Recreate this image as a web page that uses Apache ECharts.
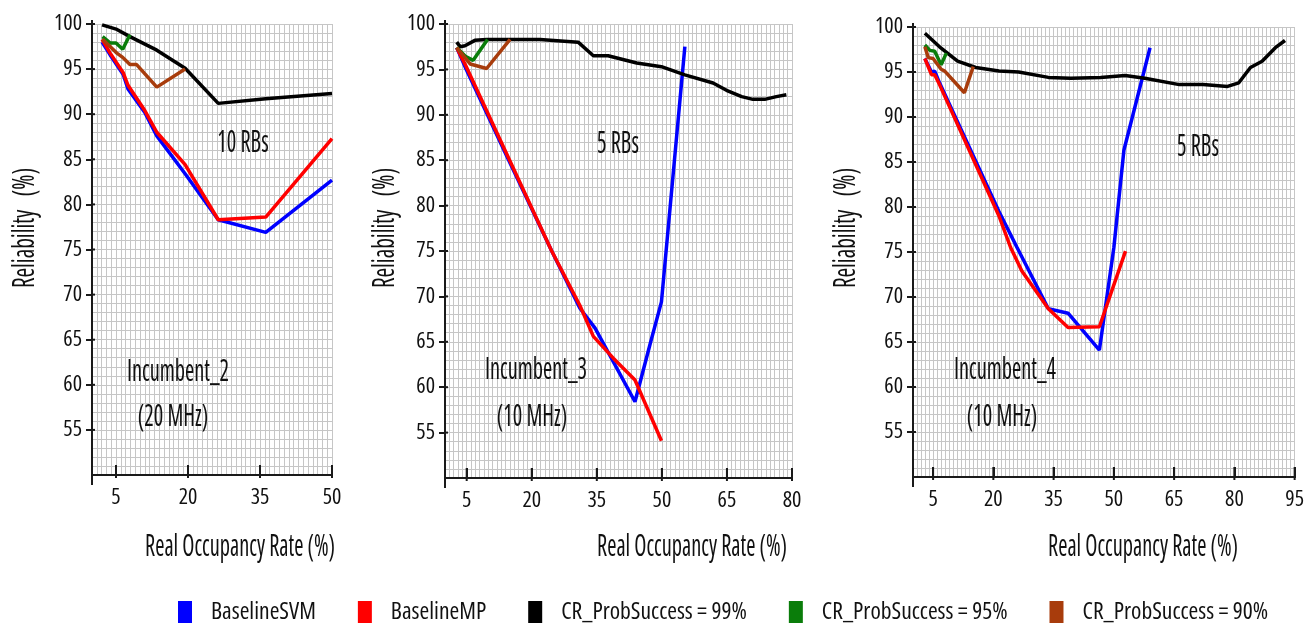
<!DOCTYPE html>
<html>
<head>
<meta charset="utf-8">
<script src="https://cdn.jsdelivr.net/npm/echarts@6/dist/echarts.min.js"></script>
<style>
  html, body { margin: 0; padding: 0; background: #fff; }
  #container { width: 1307px; height: 630px; }
</style>
</head>
<body>
<div id="container"></div>
<script>
// series names (legend order)
const names = ['BaselineSVM', 'BaselineMP', 'CR_ProbSuccess = 99%', 'CR_ProbSuccess = 95%', 'CR_ProbSuccess = 90%'];

// tick labels
const xTicks1 = [5, 20, 35, 50];
const xTicks2 = [5, 20, 35, 50, 65, 80];
const xTicks3 = [5, 20, 35, 50, 65, 80, 95];
const yTicks = [55, 60, 65, 70, 75, 80, 85, 90, 95, 100];

// Incumbent_2 (20 MHz), 10 RBs   [occupancy %, reliability %]
const svm1 = [[2.1, 98.0], [3.75, 96.6], [6.5, 94.4], [7.5, 92.8], [11, 90.2], [13.5, 87.6], [19.4, 83.4], [26.3, 78.3], [36.2, 76.9], [50, 82.7]];
const mp1 = [[2.1, 98.3], [3.75, 96.8], [6.5, 94.6], [7.5, 93.2], [11, 90.4], [13.5, 88.0], [19.4, 84.4], [26.3, 78.3], [36.2, 78.6], [50, 87.3]];
const cr99_1 = [[2.1, 99.9], [5.2, 99.4], [7.9, 98.6], [13.5, 97.1], [19.4, 95.1], [26.3, 91.2], [36.2, 91.7], [50, 92.3]];
const cr95_1 = [[2.2, 98.6], [3.75, 97.9], [5, 97.9], [6.4, 97.2], [7.9, 98.8]];
const cr90_1 = [[2.2, 98.3], [5.1, 96.8], [6.4, 96.3], [7.9, 95.5], [9.3, 95.5], [13.5, 93.0], [19.4, 95.0]];

// Incumbent_3 (10 MHz), 5 RBs
const svm2 = [[2.7, 97.4], [4.8, 95.1], [14.5, 85.2], [24.6, 75.0], [31.1, 68.7], [34.6, 66.5], [43.8, 58.4], [47.2, 64.6], [49.9, 69.4], [55.3, 97.5]];
const mp2 = [[2.7, 97.4], [4.8, 95.4], [14.5, 85.4], [24.6, 75.0], [31.1, 69.0], [34.2, 65.6], [38.8, 63.2], [43.8, 60.8], [49.9, 54.1]];
const cr99_2 = [[2.7, 98.0], [3.5, 97.5], [4.6, 97.6], [6.9, 98.2], [9.6, 98.3], [21.9, 98.3], [30.7, 98.0], [34.2, 96.5], [37.6, 96.5], [44.2, 95.7], [49.9, 95.3], [55.3, 94.4], [61.8, 93.5], [64.9, 92.7], [68.4, 92.0], [71, 91.7], [73.7, 91.7], [76.4, 92.0], [78.7, 92.2]];
const cr95_2 = [[2.7, 97.4], [4.8, 96.4], [6.5, 96.0], [9.8, 98.3]];
const cr90_2 = [[2.7, 97.4], [5.8, 95.6], [9.6, 95.1], [15, 98.3]];

// Incumbent_4 (10 MHz), 5 RBs
const svm3 = [[2.95, 96.5], [4.6, 95.0], [5.4, 95.1], [6.6, 93.8], [21.4, 79.5], [25.9, 75.5], [33.7, 68.7], [38.6, 68.2], [46.4, 64.1], [50, 75.5], [52.5, 86.3], [59, 97.7]];
const mp3 = [[2.95, 96.5], [4.6, 94.7], [5.4, 94.7], [6.6, 93.6], [21.4, 79.0], [24.3, 75.5], [27.1, 72.9], [33.7, 68.7], [38.6, 66.6], [46.4, 66.7], [52.9, 75.1]];
const cr99_3 = [[2.95, 99.3], [6.6, 97.8], [11.1, 96.2], [15.6, 95.5], [21.4, 95.1], [26.3, 95.0], [33.7, 94.4], [39.3, 94.3], [46.7, 94.4], [52.8, 94.6], [57.7, 94.3], [66.3, 93.6], [72.2, 93.6], [78.3, 93.4], [81.1, 93.8], [84, 95.5], [86.9, 96.2], [90.2, 97.7], [92.6, 98.5]];
const cr95_3 = [[2.95, 98.0], [4.2, 97.4], [5.4, 97.3], [7.0, 95.8], [8.3, 97.1]];
const cr90_3 = [[2.95, 97.8], [3.8, 96.6], [5.0, 96.5], [7.0, 95.3], [7.9, 95.1], [12.8, 92.7], [15, 95.6]];

const panels = [
    { xMax: 50, ticks: xTicks1, data: [svm1, mp1, cr99_1, cr95_1, cr90_1] },
    { xMax: 80, ticks: xTicks2, data: [svm2, mp2, cr99_2, cr95_2, cr90_2] },
    { xMax: 95, ticks: xTicks3, data: [svm3, mp3, cr99_3, cr95_3, cr90_3] }
];

const colors = ['#0000ff', '#ff0000', '#000000', '#0a7d0a', '#a83c0c'];
const gridBoxes = [
    { left: 92, top: 24, width: 240, height: 451 },
    { left: 445, top: 24, width: 347, height: 454 },
    { left: 913, top: 27, width: 386, height: 450 }
];
const yMin = 50, yMax = 100;
const axisColor = '#1a1a1a';
const gridColor = '#c6c6c6';
const font = "normal condensed 31px 'Open Sans'";
const labelFont = { fontFamily: "'Open Sans'", fontStyle: 'normal', fontWeight: 'condensed', fontSize: 22, color: '#111' };

// annotations: [text, x, y, rotated]
const notes = [
    ['Reliability   (%)', 25, 228, true], ['Reliability   (%)', 385, 228, true], ['Reliability   (%)', 846, 228, true],
    ['Real Occupancy Rate (%)', 240, 547], ['Real Occupancy Rate (%)', 692, 547], ['Real Occupancy Rate (%)', 1143, 547],
    ['10 RBs', 243, 143], ['5 RBs', 618, 144], ['5 RBs', 1198, 147],
    ['Incumbent_2', 178, 372], ['(20 MHz)', 173, 417],
    ['Incumbent_3', 536, 370], ['(10 MHz)', 532, 417],
    ['Incumbent_4', 1005, 370], ['(10 MHz)', 1002, 417]
];

// axis frame (lines + crossing ticks) drawn as short line series on the same scales
const frameSeries = (p, box, i) => {
    const ux = p.xMax / box.width;            // data units per px
    const uy = (yMax - yMin) / box.height;
    const segs = [];
    segs.push([[0, yMax + 4 * uy], [0, yMin - 10 * uy]]);
    segs.push([[-4 * ux, yMin], [p.xMax + 5 * ux, yMin]]);
    p.ticks.forEach(t => segs.push([[t, yMin - 3 * uy], [t, yMin + 10 * uy]]));
    yTicks.forEach(v => segs.push([[-6 * ux, v], [3 * ux, v]]));
    return segs.map(seg => ({
        type: 'line', xAxisIndex: i * 2, yAxisIndex: i, data: seg,
        showSymbol: false, symbol: 'none', clip: false, silent: true, z: 1,
        lineStyle: { color: axisColor, width: 2 }, itemStyle: { color: axisColor },
        emphasis: { disabled: true }
    }));
};

const xAxes = [];
const yAxes = [];
const series = [];
panels.forEach((p, i) => {
    // labelled axis
    xAxes.push({
        type: 'value', gridIndex: i, position: 'bottom', min: 0, max: p.xMax,
        axisLine: { show: true, onZero: false, lineStyle: { color: axisColor, width: 2 } },
        axisTick: { show: true, inside: true, length: 10, customValues: p.ticks, lineStyle: { color: axisColor, width: 2 } },
        axisLabel: Object.assign({ customValues: p.ticks, margin: 12 }, labelFont),
        splitLine: { show: false }
    });
    // graph paper (1-unit lines)
    xAxes.push({
        type: 'value', gridIndex: i, position: 'bottom', min: 0, max: p.xMax, interval: 1,
        axisLine: { show: false }, axisTick: { show: false }, axisLabel: { show: false },
        splitLine: { show: true, lineStyle: { color: gridColor, width: 1 } }
    });
    yAxes.push({
        type: 'value', gridIndex: i, min: yMin, max: yMax, interval: 5,
        axisLine: { show: true, onZero: false, lineStyle: { color: axisColor, width: 2 } },
        axisTick: { show: true, length: 6, lineStyle: { color: axisColor, width: 2 } },
        axisLabel: Object.assign({ showMinLabel: false, margin: 10 }, labelFont),
        splitLine: { show: true, lineStyle: { color: gridColor, width: 1 } },
        minorTick: { show: false, splitNumber: 5 },
        minorSplitLine: { show: true, lineStyle: { color: gridColor, width: 1 } }
    });
    frameSeries(p, gridBoxes[i], i).forEach(s => series.push(s));
    p.data.forEach((d, k) => {
        series.push({
            name: names[k], type: 'line', xAxisIndex: i * 2, yAxisIndex: i,
            data: d, showSymbol: false, symbol: 'none', z: 2,
            lineStyle: { color: colors[k], width: 3.5 }, itemStyle: { color: colors[k] }
        });
    });
});

const graphics = notes.map(n => ({
    type: 'text', x: n[1], y: n[2], rotation: n[3] ? Math.PI / 2 : 0,
    scaleX: n[3] ? 0.75 : 0.72, z: 100, silent: true,
    style: { text: n[0], font: font, fill: '#111', align: 'center', verticalAlign: 'middle' }
}));

var myChart = echarts.init(document.getElementById('container'), null, { renderer: 'canvas' });
myChart.setOption({
    animation: false,
    grid: gridBoxes,
    xAxis: xAxes,
    yAxis: yAxes,
    legend: {
        data: names, left: 178, top: 600, icon: 'rect', padding: 0,
        itemWidth: 14, itemHeight: 22, itemGap: 42,
        textStyle: Object.assign({}, labelFont, { fontSize: 23.5, padding: [0, 0, 0, 14] })
    },
    graphic: graphics,
    series: series
});
</script>
</body>
</html>
